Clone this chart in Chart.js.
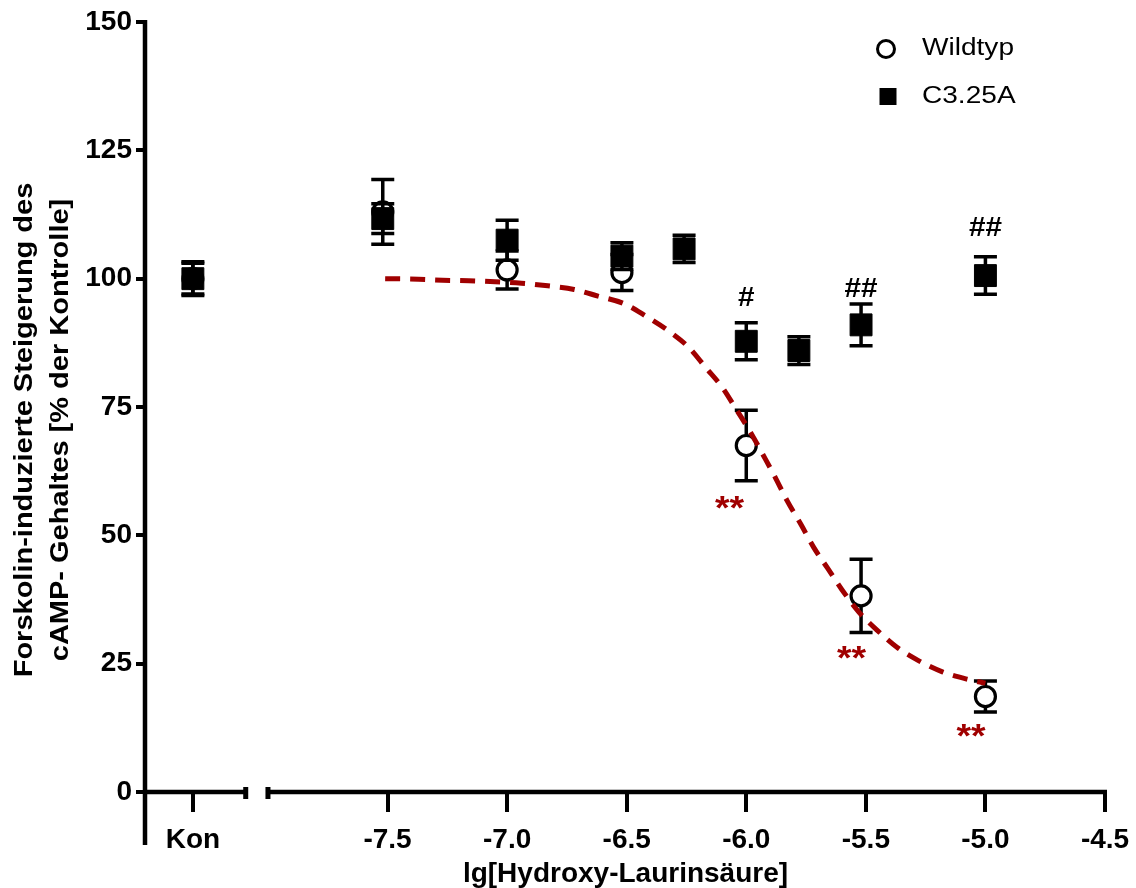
<!DOCTYPE html>
<html>
<head>
<meta charset="utf-8">
<script src="https://cdn.jsdelivr.net/npm/chart.js"></script>
<style>
  html, body { margin: 0; padding: 0; background: #fff; }
  #wrap { width: 1136px; height: 888px; position: relative; }
</style>
</head>
<body>
<div id="wrap"><canvas id="chart"></canvas></div>
<script>
// ---- data -----------------------------------------------------------
// log concentration of hydroxy lauric acid; the control is placed left of the axis break
const doseTicks = [-7.5, -7.0, -6.5, -6.0, -5.5, -5.0, -4.5];
const yTicks = [0, 25, 50, 75, 100, 125, 150];
const controlLabel = 'Kon';

// Wildtyp: mean and SEM (% of control)
const wildDose = ['Kon', -7.52, -7.0, -6.52, -6.0, -5.52, -5.0];
const wildMean = [100.0, 113.0, 101.7, 101.2, 67.5, 38.2, 18.6];
const wildSem  = [3.0, 6.3, 3.7, 3.5, 6.85, 7.15, 3.0];

// C3.25A mutant: mean and SEM (% of control)
const mutDose = ['Kon', -7.52, -7.0, -6.52, -6.26, -6.0, -5.78, -5.52, -5.0];
const mutMean = [100.0, 111.7, 107.5, 104.4, 105.8, 87.8, 86.0, 91.0, 100.6];
const mutSem  = [3.3, 2.9, 3.9, 2.6, 2.65, 3.6, 2.7, 4.05, 3.65];

// fitted concentration-response curve for Wildtyp
const fitDose = [-7.51, -7.37, -7.27, -7.16, -7.05, -6.94, -6.83, -6.72, -6.62, -6.51,
                 -6.42, -6.33, -6.24, -6.17, -6.10, -6.04, -5.98, -5.93, -5.88, -5.83,
                 -5.77, -5.72, -5.66, -5.60, -5.53, -5.45, -5.37, -5.28, -5.18, -5.07, -5.00];
const fitResp = [100.0, 99.9, 99.7, 99.6, 99.4, 99.1, 98.6, 97.9, 96.6, 95.1,
                 92.7, 90.0, 86.6, 82.7, 78.8, 74.4, 69.9, 65.7, 61.4, 56.8,
                 52.0, 47.8, 43.6, 39.4, 35.1, 31.4, 28.2, 25.6, 23.4, 21.9, 21.2];

// significance marks: # vs. Wildtyp, ** vs. control
const sigText  = ['#', '##', '##', '**', '**', '**'];
const sigDose  = [-6.0, -5.52, -5.0, -6.07, -5.56, -5.06];
const sigLevel = [96.5, 98.4, 110.3, 56.5, 27.3, 12.1];

// ---- axis layout ----------------------------------------------------
const X_MIN = -8.51;           // left end of the x axis
const CONTROL_POS = -8.314;    // where the control is drawn
const BREAK_FROM = -8.093;     // axis break
const BREAK_TO = -8.0;
const FONT = "'Liberation Sans', Arial, Helvetica, sans-serif";
const RED = '#a00000';

const toX = d => (d === controlLabel ? CONTROL_POS : d);
const points = (dose, mean) => dose.map((d, i) => ({ x: toX(d), y: mean[i] }));

// axis lines with the break, drawn under the data
const brokenAxes = {
  id: 'brokenAxes',
  beforeDatasetsDraw(chart) {
    const { ctx, scales: { x, y } } = chart;
    const y0 = y.getPixelForValue(0);
    const left = x.getPixelForValue(X_MIN) - 1;
    const b1 = x.getPixelForValue(BREAK_FROM);
    const b2 = x.getPixelForValue(BREAK_TO);
    ctx.save();
    ctx.strokeStyle = '#000';
    ctx.lineWidth = 4.5;
    ctx.beginPath();
    ctx.moveTo(left, y.getPixelForValue(150) - 2);
    ctx.lineTo(left, y0 + 53);
    ctx.moveTo(left, y0);
    ctx.lineTo(b1, y0);
    ctx.moveTo(b2, y0);
    ctx.lineTo(x.getPixelForValue(-4.5) + 2, y0);
    ctx.stroke();
    ctx.lineWidth = 5;
    ctx.beginPath();
    ctx.moveTo(b1, y0 - 5); ctx.lineTo(b1, y0 + 7);
    ctx.moveTo(b2, y0 - 5); ctx.lineTo(b2, y0 + 7);
    ctx.stroke();
    ctx.restore();
  }
};

// SEM bars, drawn just before the markers of their own series
const errorBars = {
  id: 'errorBars',
  beforeDatasetDraw(chart, args) {
    const ds = chart.data.datasets[args.index];
    if (!ds.sem) return;
    const { ctx, scales: { x, y } } = chart;
    ctx.save();
    ctx.strokeStyle = '#000';
    ctx.lineWidth = 3.5;
    ds.data.forEach((p, i) => {
      const px = x.getPixelForValue(p.x);
      const hi = y.getPixelForValue(p.y + ds.sem[i]);
      const lo = y.getPixelForValue(p.y - ds.sem[i]);
      ctx.beginPath();
      ctx.moveTo(px, hi); ctx.lineTo(px, lo);
      ctx.moveTo(px - 11.5, hi); ctx.lineTo(px + 11.5, hi);
      ctx.moveTo(px - 11.5, lo); ctx.lineTo(px + 11.5, lo);
      ctx.stroke();
    });
    ctx.restore();
  }
};

// y title, legend and significance marks
const labels = {
  id: 'labels',
  afterDraw(chart) {
    const { ctx, scales: { x, y } } = chart;
    const yMid = 430;
    ctx.save();
    ctx.fillStyle = '#000';
    ctx.textAlign = 'center';
    ctx.textBaseline = 'middle';
    ctx.font = 'bold 25px ' + FONT;
    [['Forskolin-induzierte Steigerung des', 25], ['cAMP- Gehaltes [% der Kontrolle]', 61]]
      .forEach(([t, cx]) => {
        ctx.save();
        ctx.translate(cx, yMid);
        ctx.rotate(-Math.PI / 2);
        ctx.scale(1.16, 1);
        ctx.fillText(t, 0, 0);
        ctx.restore();
      });

    // legend
    ctx.lineWidth = 3;
    ctx.strokeStyle = '#000';
    ctx.fillStyle = '#fff';
    ctx.beginPath();
    ctx.arc(886, 49, 8.5, 0, Math.PI * 2);
    ctx.fill(); ctx.stroke();
    ctx.fillStyle = '#000';
    ctx.fillRect(879.5, 88, 17, 17);
    ctx.font = '23px ' + FONT;
    ctx.textAlign = 'left';
    [['Wildtyp', 49], ['C3.25A', 97]].forEach(([t, ty]) => {
      ctx.save();
      ctx.translate(922, ty);
      ctx.scale(1.22, 1);
      ctx.fillText(t, 0, 0);
      ctx.restore();
    });

    // significance marks
    ctx.textAlign = 'center';
    ctx.textBaseline = 'alphabetic';
    sigText.forEach((t, i) => {
      const px = x.getPixelForValue(sigDose[i]);
      const py = y.getPixelForValue(sigLevel[i]);
      const star = t[0] === '*';
      const size = star ? 34 : 27;
      ctx.font = 'bold ' + size + 'px ' + FONT;
      ctx.fillStyle = star ? RED : '#000';
      ctx.save();
      ctx.translate(px, py + (star ? 0.5 : 0.36) * size);
      ctx.scale(1.1, 1);
      ctx.fillText(t, 0, 0);
      ctx.restore();
    });
    ctx.restore();
  }
};

new Chart(document.getElementById('chart'), {
  type: 'scatter',
  data: {
    datasets: [
      {
        label: 'C3.25A',
        data: points(mutDose, mutMean),
        sem: mutSem,
        order: 1,
        pointStyle: 'rect',
        pointRadius: 15.5,
        pointBorderWidth: 1,
        pointBackgroundColor: '#000',
        pointBorderColor: '#000'
      },
      {
        label: 'Fit',
        data: fitDose.map((d, i) => ({ x: d, y: fitResp[i] })),
        order: 2,
        showLine: true,
        borderColor: RED,
        borderWidth: 5,
        borderDash: [15, 10],
        cubicInterpolationMode: 'monotone',
        pointRadius: 0,
        fill: false
      },
      {
        label: 'Wildtyp',
        data: points(wildDose, wildMean),
        sem: wildSem,
        order: 3,
        pointStyle: 'circle',
        pointRadius: 10,
        pointBorderWidth: 3.2,
        pointBackgroundColor: '#fff',
        pointBorderColor: '#000'
      }
    ]
  },
  options: {
    responsive: true,
    maintainAspectRatio: false,
    devicePixelRatio: 1,
    animation: false,
    events: [],
    layout: { padding: { left: 0, top: 22, right: 31, bottom: 0 } },
    plugins: { legend: { display: false }, tooltip: { enabled: false } },
    scales: {
      x: {
        type: 'linear',
        min: X_MIN,
        max: -4.5,
        afterBuildTicks: s => { s.ticks = [CONTROL_POS, ...doseTicks].map(v => ({ value: v })); },
        afterFit: s => { s.height = 96; s.paddingLeft = 0; s.paddingRight = 0; },
        ticks: {
          callback: v => (v === CONTROL_POS ? controlLabel : v.toFixed(1)),
          font: { family: FONT, size: 28, weight: 'bold' },
          color: '#000',
          padding: 11,
          maxRotation: 0,
          autoSkip: false
        },
        grid: { drawOnChartArea: false, drawTicks: true, tickLength: 20, lineWidth: 4, color: '#000' },
        border: { display: false },
        title: {
          display: true,
          text: 'lg[Hydroxy-Laurinsäure]',
          font: { family: FONT, size: 28, weight: 'bold' },
          color: '#000',
          padding: { top: 0, bottom: -3 }
        }
      },
      y: {
        type: 'linear',
        min: 0,
        max: 150,
        afterBuildTicks: s => { s.ticks = yTicks.map(v => ({ value: v })); },
        afterFit: s => { s.width = 146; s.paddingTop = 0; s.paddingBottom = 0; },
        ticks: {
          font: { family: FONT, size: 28, weight: 'bold' },
          color: '#000',
          padding: 4
        },
        grid: { drawOnChartArea: false, drawTicks: true, tickLength: 10, lineWidth: 4, color: '#000' },
        border: { display: false }
      }
    }
  },
  plugins: [brokenAxes, errorBars, labels]
});
</script>
</body>
</html>
